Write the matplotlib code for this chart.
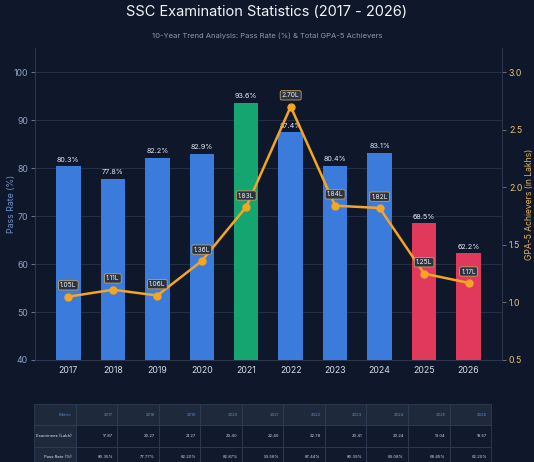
import numpy as np
import matplotlib.pyplot as plt

plt.rcParams['font.family'] = ['Inter', 'DejaVu Sans']

# data
years = ['2017', '2018', '2019', '2020', '2021', '2022', '2023', '2024', '2025', '2026']
pass_rate = [80.35, 77.77, 82.20, 82.87, 93.58, 87.44, 80.39, 83.08, 68.45, 62.20]
gpa5 = [1.05, 1.11, 1.06, 1.36, 1.83, 2.70, 1.84, 1.82, 1.25, 1.17]
examinees = [17.87, 20.27, 21.27, 20.40, 22.40, 22.78, 20.41, 20.24, 19.04, 18.57]

bg = '#0f172a'
blue = '#3a7bdc'
green = '#14a571'
red = '#e0395b'
orange = '#f5a524'
gridc = '#243046'
spinec = '#2c3850'

bar_cols = []
for p in pass_rate:
    if p >= 90:
        bar_cols.append(green)
    elif p < 70:
        bar_cols.append(red)
    else:
        bar_cols.append(blue)

fig = plt.figure(figsize=(5.34, 4.62), dpi=100, facecolor=bg)
ax = fig.add_axes([0.0655, 0.2208, 0.8745, 0.675])
ax.set_facecolor(bg)
x = np.arange(len(years))

bars = ax.bar(x, pass_rate, width=0.55, color=bar_cols, zorder=2)
for xi, p in zip(x, pass_rate):
    ax.text(xi, p + 0.8, f"{p:.1f}%", ha='center', va='bottom',
            fontsize=5.2, color='#e6ebf2', zorder=3)

ax.set_ylim(40, 105)
ax.set_xlim(-0.75, 9.75)
ax.set_yticks(range(40, 101, 10))
ax.set_xticks(x)
ax.set_xticklabels(years)
ax.yaxis.grid(True, color=gridc, linewidth=0.7, zorder=0)
ax.set_axisbelow(True)
ax.tick_params(axis='y', colors='#6f86ad', labelsize=6.3, length=3, width=0.6, pad=2)
ax.tick_params(axis='x', colors='#d5dbe5', labelsize=6.3, length=0, pad=4)
for t in ax.get_yticklabels():
    t.set_color('#8fa4c8')
ax.set_ylabel("Pass Rate (%)", color='#6f93cf', fontsize=6.3)
ax.yaxis.set_label_coords(-0.041, 0.5)
ax.spines['top'].set_visible(False)
for s in ['left', 'right', 'bottom']:
    ax.spines[s].set_color(spinec)
    ax.spines[s].set_linewidth(0.7)

ax2 = ax.twinx()
ax2.set_ylim(0.5, 0.5 + 65 / 60 * 2.5)
ax2.set_yticks([0.5, 1.0, 1.5, 2.0, 2.5, 3.0])
ax2.plot(x, gpa5, color=orange, linewidth=1.8, marker='o', markersize=5, zorder=4)
for xi, g in zip(x, gpa5):
    ax2.annotate(f"{g:.2f}L", (xi, g), xytext=(0, 6), textcoords='offset points',
                 ha='center', va='bottom', fontsize=4.8, color='#f1f3f6', zorder=5,
                 bbox=dict(boxstyle='round,pad=0.25', fc='#2b3442', ec='#c9a15e', lw=0.6))
ax2.tick_params(axis='y', colors='#8a8060', labelsize=6.3, length=3, width=0.6, pad=2)
for t in ax2.get_yticklabels():
    t.set_color('#e7c27a')
ax2.set_ylabel("GPA-5 Achievers (in Lakhs)", color='#e7b65c', fontsize=6.2)
ax2.yaxis.set_label_coords(1.05, 0.5)
ax2.spines['top'].set_visible(False)
for s in ['left', 'right', 'bottom']:
    ax2.spines[s].set_color(spinec)
    ax2.spines[s].set_linewidth(0.7)

fig.text(0.5, 0.974, "SSC Examination Statistics (2017 - 2026)", ha='center', va='center',
         fontsize=10.5, color='#f2f4f8')
fig.text(0.5, 0.922, "10-Year Trend Analysis: Pass Rate (%) & Total GPA-5 Achievers",
         ha='center', va='center', fontsize=5.5, color='#8e9aae')

# table
tax = fig.add_axes([0.0637, -0.013, 0.856, 0.1385])
tax.axis('off')
cells = [['Metric'] + years,
         ['Examinees (Lakh)'] + [f"{v:.2f}" for v in examinees],
         ['Pass Rate (%)'] + [f"{v:.2f}%" for v in pass_rate]]
tbl = tax.table(cellText=cells, bbox=[0, 0, 1, 1], cellLoc='right')
tbl.auto_set_font_size(False)
tbl.set_fontsize(3.0)
for (r, c), cell in tbl.get_celld().items():
    cell.set_edgecolor('#34415a')
    cell.set_linewidth(0.5)
    if r == 0:
        cell.set_facecolor('#1e293b')
        cell.get_text().set_color('#5b8fd9')
    elif c == 0:
        cell.set_facecolor('#1e293b')
        cell.get_text().set_color('#e3e8ef')
    else:
        cell.set_facecolor('#111a2c')
        cell.get_text().set_color('#d3d9e2')

fig.savefig('out.png', dpi=100, facecolor=bg)
